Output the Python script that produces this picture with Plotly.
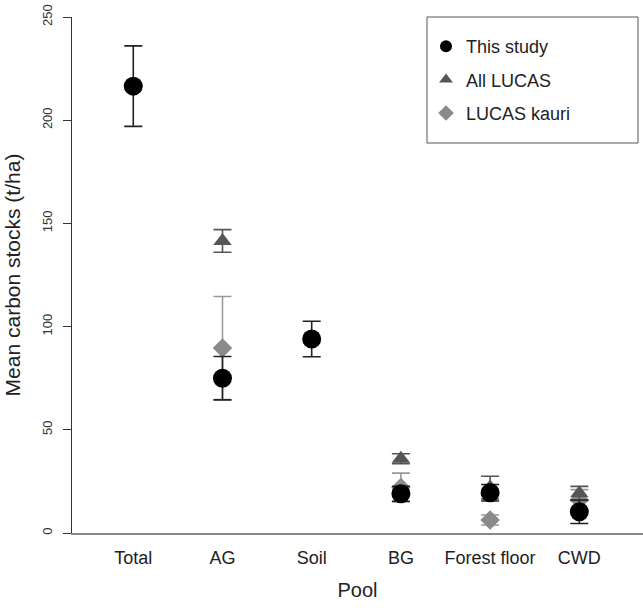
import plotly.graph_objects as go

pools = ["Total", "AG", "Soil", "BG", "Forest floor", "CWD"]
xpos = [1, 2, 3, 4, 5, 6]

study_mean = [216.5, 75.0, 94.0, 19.0, 19.5, 10.3]
study_err = [19.5, 10.5, 8.6, 3.6, 4.0, 5.7]

lucas_mean = [None, 141.5, None, 36.0, 22.0, 19.2]
lucas_err = [None, 5.5, None, 2.4, 5.5, 3.4]

kauri_mean = [None, 89.6, None, 22.0, 6.3, 16.0]
kauri_err = [None, 25.0, None, 7.0, 2.4, 5.0]

y_ticks = [0, 50, 100, 150, 200, 250]

FONT = "Liberation Sans, Arial, Helvetica, sans-serif"
L = 72

fig = go.Figure()

fig.add_trace(go.Scatter(
    x=xpos, y=kauri_mean, mode="markers", name="LUCAS kauri",
    legendgroup="c", legendrank=3,
    marker=dict(symbol="diamond", size=15, color="#8a8a8a"),
    error_y=dict(type="data", array=kauri_err, color="#9a9a9a", thickness=1.6, width=9),
    cliponaxis=False,
))
fig.add_trace(go.Scatter(
    x=xpos, y=lucas_mean, mode="markers", name="All LUCAS",
    legendgroup="b", legendrank=2,
    marker=dict(symbol="triangle-up", size=16, color="#555555"),
    error_y=dict(type="data", array=lucas_err, color="#555555", thickness=1.6, width=9),
    cliponaxis=False,
))
fig.add_trace(go.Scatter(
    x=xpos, y=study_mean, mode="markers", name="This study",
    legendgroup="a", legendrank=1,
    marker=dict(symbol="circle", size=19, color="#000000"),
    error_y=dict(type="data", array=study_err, color="#222222", thickness=1.6, width=9),
    cliponaxis=False,
))

pw = 643 - L
fig.update_layout(
    width=643, height=608,
    margin=dict(l=L, r=0, t=17, b=75),
    plot_bgcolor="white", paper_bgcolor="white",
    font=dict(family=FONT, color="#222222"),
    showlegend=True,
    legend=dict(
        x=(426 - L) / pw, y=1 - (28 - 17) / 516, xanchor="left", yanchor="top",
        bgcolor="rgba(0,0,0,0)", borderwidth=0,
        font=dict(size=18, family=FONT, color="#222222"),
        itemsizing="constant", traceorder="grouped", tracegroupgap=7,
    ),
    xaxis=dict(
        range=[0.313, 6.714], tickvals=xpos, ticktext=pools,
        showline=True, linecolor="#888888", linewidth=1.5,
        ticks="", showgrid=False, zeroline=False,
        ticklabelstandoff=8,
        tickfont=dict(size=18, family=FONT, color="#222222"),
        title=dict(text="Pool", font=dict(size=20, family=FONT, color="#222222"), standoff=16),
    ),
    yaxis=dict(
        range=[0, 250], tickvals=y_ticks,
        showline=True, linecolor="#333333", linewidth=1,
        ticks="outside", ticklen=8, tickcolor="#333333",
        showgrid=False, zeroline=False, tickangle=-90,
        ticklabelstandoff=6,
        tickfont=dict(size=13, family=FONT, color="#333333"),
        title=dict(text="Mean carbon stocks (t/ha)", font=dict(size=21, family=FONT, color="#222222"), standoff=13),
    ),
    shapes=[dict(type="rect", xref="paper", yref="paper",
                 x0=(427 - L) / pw, x1=(638 - L) / pw,
                 y0=(533 - 143) / 516, y1=(533 - 17) / 516,
                 line=dict(color="#555555", width=1), fillcolor="rgba(0,0,0,0)")],
)

fig.write_html("out.html")
